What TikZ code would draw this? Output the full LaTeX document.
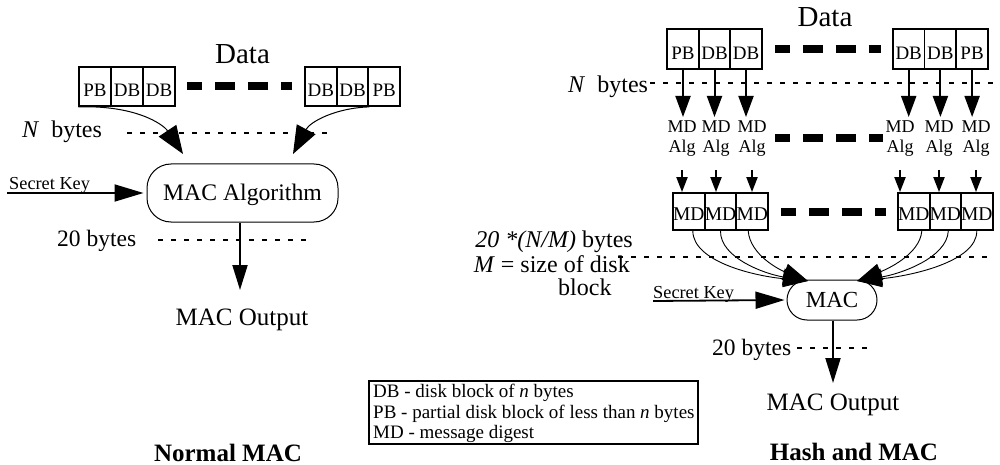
\documentclass[tikz,border=0pt]{standalone}
\usepackage{fontspec}
\setmainfont{Liberation Serif}
\usetikzlibrary{arrows.meta}
\newcommand{\myfs}[1]{\fontsize{#1}{#1}\selectfont}
\begin{document}
\begin{tikzpicture}[x=1pt,y=-1pt,
  txt/.style={inner sep=0pt, anchor=base},
  cell/.style={draw, line width=1.8pt, minimum width=31.7pt, minimum height=39pt, inner sep=0pt, text height=21pt, text depth=0pt, font=\myfs{19}},
  mdcell/.style={cell, minimum width=31.6pt, minimum height=37pt, text height=17pt, font=\myfs{19.5}},
  wdash/.style={line width=8pt, dash pattern=on 15pt off 13pt on 20pt off 13pt on 20pt off 13pt on 15pt off 200pt},
  dots/.style={line width=1.2pt, dash pattern=on 5pt off 8pt},
  bigarr/.style={line width=1pt, -{Triangle[length=28pt,width=21pt]}},
  keyarr/.style={line width=1.8pt, -{Triangle[length=29pt,width=17pt]}},
  outarr/.style={line width=2pt, -{Triangle[length=25pt,width=15pt]}},
  downarr/.style={line width=2pt, -{Triangle[length=21pt,width=15pt]}},
  smallarr/.style={line width=2pt, -{Triangle[length=15pt,width=11pt]}},
  macarr/.style={line width=0.9pt, -{Triangle[length=25pt,width=17pt]}},
  macbox/.style={draw, line width=1pt, inner sep=0pt, text depth=0pt},
  legtxt/.style={txt, anchor=base west, font=\myfs{19}}
]
\useasboundingbox (0,0) rectangle (1000,465);

% ---------------- Normal MAC ----------------
\node[txt, font=\myfs{29}] (data1) at (242.5,64) {Data};
\node[cell] (c1) at (95,86.5) {PB};
\node[cell] (c2) at (127,86.5) {DB};
\node[cell] (c3) at (159,86.5) {DB};
\node[cell] (c4) at (320.8,86.5) {DB};
\node[cell] (c5) at (352.5,86.5) {DB};
\node[cell] (c6) at (384.2,86.5) {PB};
\draw[wdash] ([xshift=11pt]c3.east) -- ([xshift=-12pt]c4.west);

\node[txt, anchor=base west, font=\myfs{24}] (nb1) at (22,138) {\textit{N}\hspace{0.5em}bytes};
\coordinate (d1a) at (127,133);
\coordinate (d1b) at (327,133);
\draw[dots] (d1a) -- (d1b);

\node[macbox, rounded corners=24pt, minimum width=191pt, minimum height=58pt, text height=15.7pt, font=\myfs{23.7}] (mac1) at (242.5,193) {MAC Algorithm};

\coordinate (t1) at (183,154);
\coordinate (t2) at (293,154);
\draw[bigarr] (c1.south west) .. controls (135,105) and (163,124) .. (t1);
\draw[bigarr] (c5.south east) .. controls (335,108) and (310,122) .. (t2);

\coordinate (k1) at (7,193);
\draw[keyarr] (k1) -- ([xshift=-3pt]mac1.west);
\node[txt, anchor=base west, font=\myfs{18.3}] (sk1) at (9,189.5) {Secret Key};

\node[txt, anchor=base west, font=\myfs{23.5}] (tb1) at (57,246) {20 bytes};
\coordinate (d2a) at (158,240);
\coordinate (d2b) at (312,240);
\draw[dots] (d2a) -- (d2b);
\coordinate (o1) at (240,290);
\draw[outarr] (mac1.south -| o1) -- (o1);

\node[txt, font=\myfs{25}] (out1) at (242,325) {MAC Output};
\node[txt, font=\bfseries\myfs{25}] (title1) at (228,461) {Normal MAC};

% ---------------- Legend ----------------
\node[draw, line width=1.8pt, minimum width=329pt, minimum height=63pt, anchor=north west, inner sep=0pt] (legend) at (368,380) {};
\node[legtxt] (lg1) at (373,397) {DB - disk block of \textit{n} bytes};
\node[legtxt] (lg2) at (373,418) {PB - partial disk block of less than \textit{n} bytes};
\node[legtxt] (lg3) at (373,438.5) {MD - message digest};

% ---------------- Hash and MAC ----------------
\node[txt, font=\myfs{29}] (data2) at (825,27) {Data};
\node[cell, minimum height=40pt] (r1) at (683,49) {PB};
\node[cell, minimum height=40pt] (r2) at (714.5,49) {DB};
\node[cell, minimum height=40pt] (r3) at (746,49) {DB};
\node[cell, minimum height=40pt] (r4) at (908.7,49) {DB};
\node[cell, minimum height=40pt] (r5) at (940.4,49) {DB};
\node[cell, minimum height=40pt] (r6) at (972.1,49) {PB};
\draw[wdash] ([xshift=12pt]r3.east) -- ([xshift=-11pt]r4.west);

\node[txt, anchor=base west, font=\myfs{24}] (nb2) at (568,93) {\textit{N}\hspace{0.5em}bytes};
\coordinate (d3a) at (650,83);
\coordinate (d3b) at (997,83);
\draw[dots] (d3a) -- (d3b);

\foreach \i/\x in {1/682,2/716,3/752,4/900,5/939,6/976}{
  \node[txt, font=\myfs{18}] (m\i) at (\x,133) {MD};
  \node[txt, font=\myfs{18}] (a\i) at (\x,153) {Alg};
}
\coordinate (yt) at (0,117);
\foreach \i in {1,...,6}{
  \draw[downarr] (r\i.south) -- (r\i.south |- yt);
}
\coordinate (w3a) at (775,138);
\coordinate (w3b) at (883,138);
\draw[wdash] (w3a) -- (w3b);

\node[mdcell] (md1) at (688.8,211.5) {MD};
\node[mdcell] (md2) at (720.5,211.5) {MD};
\node[mdcell] (md3) at (752.2,211.5) {MD};
\node[mdcell] (md4) at (913.8,211.5) {MD};
\node[mdcell] (md5) at (945.3,211.5) {MD};
\node[mdcell] (md6) at (976.8,211.5) {MD};
\draw[wdash] ([xshift=12pt]md3.east) -- ([xshift=-11pt]md4.west);

\coordinate (ys) at (0,170);
\foreach \i in {1,...,6}{
  \draw[smallarr] (a\i.south |- ys) -- (a\i.south |- md\i.north);
}

\node[txt, anchor=base east, font=\myfs{24}] (f1) at (633,247) {\textit{20 *(N/M)} bytes};
\node[txt, anchor=base east, font=\myfs{24}] (f2) at (630,272) {\textit{M} = size of disk};
\node[txt, anchor=base west, font=\myfs{24}] (f3) at (558,295) {block};
\coordinate (d4a) at (618,257);
\coordinate (d4b) at (990,257);
\draw[dots] (d4a) -- (d4b);

\node[macbox, rounded corners=20pt, minimum width=90pt, minimum height=40pt, text height=15.2pt, font=\myfs{23}] (mac2) at (832,300) {MAC};

\coordinate (tL) at (808,281);
\coordinate (tR) at (857,281);
\draw[macarr] ([xshift=4pt]md1.south) .. controls (693,262) and (755,276) .. (tL);
\draw[macarr] (md2.south) .. controls (720,258) and (765,274) .. (tL);
\draw[macarr] ([xshift=-4pt]md3.south) .. controls (750,255) and (780,270) .. (tL);
\draw[macarr] (md6.south) .. controls (977,262) and (910,276) .. (tR);
\draw[macarr] ([xshift=3pt]md5.south) .. controls (947,258) and (900,274) .. (tR);
\draw[macarr] ([xshift=8pt]md4.south) .. controls (920,255) and (885,270) .. (tR);

\coordinate (k2) at (653,301);
\draw[keyarr] (k2) -- ([xshift=-2pt]mac2.west);
\node[txt, anchor=base west, font=\myfs{18.3}] (sk2) at (653,298.5) {Secret Key};

\node[txt, anchor=base west, font=\myfs{23.5}] (tb2) at (712,355) {20 bytes};
\coordinate (d5a) at (797,348);
\coordinate (d5b) at (870,348);
\draw[dots] (d5a) -- (d5b);
\coordinate (o2) at (833,383);
\draw[outarr] (mac2.south -| o2) -- (o2);

\node[txt, font=\myfs{25}] (out2) at (833,410) {MAC Output};
\node[txt, font=\bfseries\myfs{25}] (title2) at (854,460) {Hash and MAC};
\end{tikzpicture}
\end{document}
